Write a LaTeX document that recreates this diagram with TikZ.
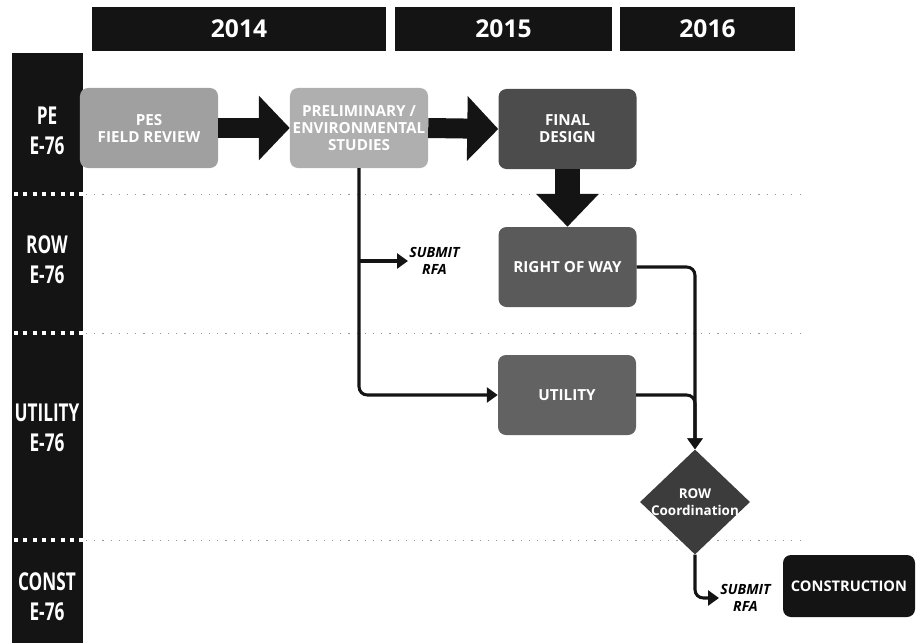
\documentclass[tikz,border=0pt]{standalone}
\usepackage{fontspec}
\setmainfont{Open Sans}
\newfontfamily\lanefont[FakeStretch=0.7]{Open Sans}
\usetikzlibrary{arrows.meta,shapes.geometric}

\definecolor{barblack}{HTML}{141414}
\definecolor{pesgray}{HTML}{A0A0A0}
\definecolor{prelimgray}{HTML}{AFAFAF}
\definecolor{finalgray}{HTML}{4C4C4C}
\definecolor{rowgray}{HTML}{5A5A5A}
\definecolor{utilgray}{HTML}{626262}
\definecolor{coordgray}{HTML}{3C3C3C}

\tikzset{
  yearbar/.style={fill=barblack, text=white, inner sep=0pt, minimum height=1.32cm,
    font=\fontsize{21}{21}\selectfont\bfseries},
  lanelabel/.style={text=white, align=center, inner sep=0pt,
    font=\lanefont\fontsize{21}{25.5}\selectfont\bfseries},
  taskbox/.style={rounded corners=0.24cm, text=white, align=center,
    minimum width=4.14cm, minimum height=2.4cm, inner sep=2pt,
    font=\fontsize{13}{14.5}\selectfont\bfseries},
  decision/.style={diamond, fill=coordgray, inner sep=0pt,
    minimum width=3.3cm, minimum height=3.15cm},
  note/.style={align=center, inner sep=1pt,
    font=\fontsize{12}{14.5}\selectfont\bfseries\itshape},
  fatarrow/.style={draw=barblack, line width=0.6cm,
    -{Triangle[width=1.89cm,length=0.93cm]}},
  flow/.style={draw=barblack, line width=2.6pt, rounded corners=0.25cm,
    -{Triangle[width=0.45cm,length=0.33cm]}},
  sepwhite/.style={white, line width=0.1cm, dash pattern=on 0.12cm off 0.16cm},
  sepgray/.style={black!40, line width=0.8pt, dash pattern=on 1pt off 6pt}
}

\begin{document}
\begin{tikzpicture}[x=0.03cm, y=-0.03cm]
    \useasboundingbox (0,0) rectangle (917,643);

    % Year bars
    \node[yearbar, minimum width=8.82cm] (y14) at (239,29) {2014};
    \node[yearbar, minimum width=6.51cm] (y15) at (503.5,29) {2015};
    \node[yearbar, minimum width=5.25cm] (y16) at (707.5,29) {2016};

    % Swim lane column
    \fill[barblack] (12,53) rectangle (83,643);
    \node[lanelabel] (lpe) at (47,131) {PE\\E-76};
    \node[lanelabel] (lrow) at (47,260) {ROW\\E-76};
    \node[lanelabel] (lutil) at (47,428) {UTILITY\\E-76};
    \node[lanelabel] (lconst) at (47,597) {CONST\\E-76};

    % Lane separators
    \foreach \y in {194,333,540} {
        \draw[sepwhite] (14,\y) -- (83,\y);
        \draw[sepgray] (86,\y) -- (800,\y);
    }

    % Tasks
    \node[taskbox, fill=pesgray] (pes) at (149,128) {PES\\FIELD REVIEW};
    \node[taskbox, fill=prelimgray] (prelim) at (359,128) {PRELIMINARY /\\ENVIRONMENTAL\\STUDIES};
    \node[taskbox, fill=finalgray] (final) at (567.5,129) {FINAL\\DESIGN};
    \node[taskbox, fill=rowgray] (row) at (567.5,267) {RIGHT OF WAY};
    \node[taskbox, fill=utilgray] (util) at (567,395) {UTILITY};
    \node[decision] (coord) at (695,502) {};
    \node[font=\fontsize{11.5}{14}\selectfont\bfseries, text=white, align=center, inner sep=0pt] (coordtxt) at (coord) {ROW\\Coordination};
    \node[taskbox, fill=barblack, minimum width=3.96cm, minimum height=1.86cm, font=\fontsize{12.5}{14}\selectfont\bfseries] (const) at (849,586) {CONSTRUCTION};

    % Notes
    \node[note, anchor=west] (rfa1) at (408,261) {SUBMIT\\RFA};
    \node[note, anchor=west] (rfa2) at (719,598) {SUBMIT\\RFA};

    % Main sequence
    \draw[fatarrow] (pes.east) -- (prelim.west);
    \draw[fatarrow] (prelim.east) -- (final.west);
    \draw[draw=barblack, line width=0.75cm, -{Triangle[width=1.83cm,length=0.99cm]}] (final.south) -- (row.north);

    % Submittals
    \draw[flow] (prelim.south) |- (util.west);
    \draw[flow, rounded corners=0pt] (prelim.south |- rfa1.west) -- (rfa1.west);
    \draw[flow] (row.east) -| (coord.north);
    \draw[flow] (util.east) -| (coord.north);
    \draw[flow] (coord.south) |- (rfa2.west);
\end{tikzpicture}
\end{document}
